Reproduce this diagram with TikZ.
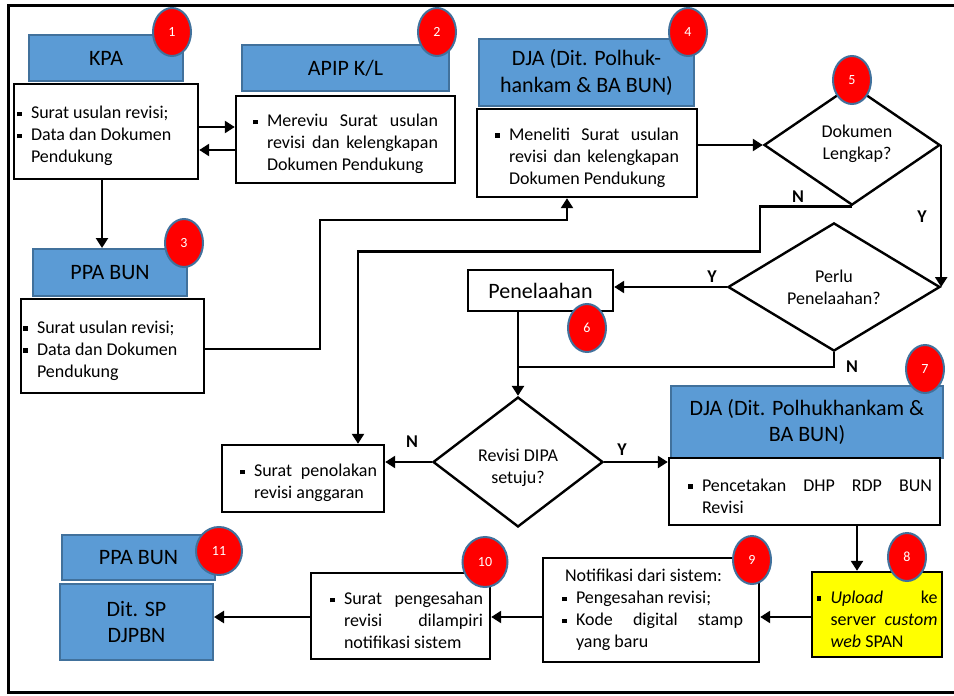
\documentclass[tikz,border=0pt]{standalone}
\usepackage{fontspec}
\setmainfont{Carlito}
\usetikzlibrary{arrows.meta,shapes.geometric,calc}
\definecolor{hdrfill}{HTML}{5B9BD5}
\definecolor{hdrline}{HTML}{41719C}
\definecolor{yel}{HTML}{FFFF00}
\newcommand\fsb{\fontsize{18}{22}\selectfont}
\newcommand\fsh{\fontsize{22}{26.5}\selectfont}
\newcommand\fsc{\fontsize{14}{16}\selectfont}
\newcommand\bul{\makebox[14pt][l]{\rule[2.5pt]{4.5pt}{4.5pt}}}
\newcommand\bitem[1]{\par\noindent\hangindent=14pt\hangafter=1\bul#1\par}
\begin{document}
\begin{tikzpicture}[x=1pt,y=-1pt,
 box/.style={draw=black,line width=2.4pt,fill=white,inner sep=0pt,font=\fsb,align=justify,execute at begin node=\setlength{\parindent}{0pt}},
 hdr/.style={draw=hdrline,line width=2pt,fill=hdrfill,inner sep=0pt,font=\fsh,align=center},
 dia/.style={diamond,draw=black,line width=2.4pt,fill=white,inner sep=0pt,font=\fsb,align=center},
 num/.style={ellipse,draw=hdrline,line width=2pt,fill=red,text=white,inner sep=0pt,minimum width=38pt,minimum height=48pt,font=\fsc},
 arr/.style={line width=2.4pt,-{Triangle[length=10pt,width=12pt]}},
 ln/.style={line width=2.4pt},
 yn/.style={font=\fsb\bfseries,inner sep=0pt}]
\useasboundingbox (0,0) rectangle (954,696);
\draw[line width=3pt] (956,5) -- (8,5) -- (8,692) -- (956,692);

% boxes
\node[hdr,minimum width=154pt,minimum height=46pt] (kpah) at (106,58) {KPA};
\node[box,minimum width=184pt,minimum height=95pt,text width=178pt] (kpa) at (106,131.5) {\bitem{Surat usulan revisi;}\bitem{Data dan Dokumen\newline Pendukung}};
\node[hdr,minimum width=207pt,minimum height=46pt] (apiph) at (345.5,68) {APIP K/L};
\node[box,minimum width=219pt,minimum height=87pt,text width=185pt] (apip) at (345.5,139.5) {\bitem{Mereviu Surat usulan\linebreak revisi dan kelengkapan\linebreak Dokumen Pendukung}};
\node[hdr,minimum width=215pt,minimum height=67pt] (djah) at (586.5,72.5) {DJA (Dit. Polhuk-\\hankam \& BA BUN)};
\node[box,minimum width=220pt,minimum height=88pt,text width=184pt] (dja) at (587,153) {\bitem{Meneliti Surat usulan\linebreak revisi dan kelengkapan\linebreak Dokumen Pendukung}};
\node[hdr,minimum width=154pt,minimum height=47pt] (ppah) at (110,272.5) {PPA BUN};
\node[box,minimum width=183pt,minimum height=94pt,text width=179pt] (ppa) at (112.5,346) {\bitem{Surat usulan revisi;}\bitem{Data dan Dokumen\newline Pendukung}};
\node[dia,minimum width=176pt,minimum height=120pt] (d5) at (852,145) {\hspace*{10pt}Dokumen\\\hspace*{10pt}Lengkap?\rule[-5pt]{0pt}{1pt}};
\node[dia,minimum width=212pt,minimum height=124pt] (d6) at (834,287) {Perlu\\Penelaahan?};
\node[box,minimum width=145pt,minimum height=41pt,font=\fsh,align=center] (pen) at (540.5,290.5) {Penelaahan};
\node[dia,minimum width=170pt,minimum height=116pt] (d7) at (518,462) {\rule{0pt}{25pt}Revisi DIPA\\setuju?};
\node[box,minimum width=162pt,minimum height=67pt,text width=148pt] (tolak) at (303,478.5) {\leftskip=11pt\bitem{Surat penolakan\linebreak revisi anggaran}};
\node[hdr,minimum width=272pt,minimum height=72pt] (dja2h) at (807,422) {DJA (Dit. Polhukhankam \&\\BA BUN)};
\node[box,minimum width=271pt,minimum height=67pt,text width=255pt] (dja2) at (804.5,491.5) {\leftskip=11pt\bitem{Pencetakan DHP RDP BUN\linebreak Revisi}};
\node[box,fill=yel,minimum width=130pt,minimum height=85pt,text width=121pt] (up) at (877,614.5) {\bitem{\textit{Upload} ke\linebreak server \textit{custom}\linebreak \textit{web} SPAN}};
\node[box,minimum width=216pt,minimum height=104pt,text width=184pt] (notif) at (651,610) {\leftskip=3pt\noindent\hspace*{3pt}Notifikasi dari sistem:\bitem{Pengesahan revisi;}\bitem{Kode digital stamp\linebreak yang baru}};
\node[box,minimum width=179pt,minimum height=86pt,text width=165pt] (b10) at (400.5,616) {\leftskip=12pt\bitem{Surat pengesahan\linebreak revisi dilampiri\linebreak notifikasi sistem}};
\node[hdr,minimum width=153pt,minimum height=45pt] (ppa2h) at (138.5,557.5) {PPA BUN};
\node[hdr,minimum width=153pt,minimum height=76pt] (ditsp) at (136.5,622) {Dit. SP\\DJPBN};

% connectors
\coordinate (k1) at ([yshift=4.5pt]kpa.east);
\draw[arr] (k1) -- (k1 -| apip.west);
\coordinate (k2) at ([yshift=-10.5pt]apip.west);
\draw[arr] (k2) -- (k2 -| kpa.east);
\coordinate (k3) at ([xshift=-4pt]kpa.south);
\draw[arr] (k3) -- (k3 |- ppah.north);
\coordinate (p1) at ([yshift=-3pt]ppa.east);
\coordinate (p2) at ([xshift=-20pt]dja.south);
\draw[arr] (p1) -- ++(115,0) |- ($(p2)+(0,22)$) -- (p2);
\draw[arr] (dja.east |- d5.west) -- (d5.west);
\draw[arr] (d5.south) -- ++(-92,0) -- ++(0,45) -| ([xshift=55pt]tolak.north);
\draw[arr] (d5.east) -- (d6.east);
\draw[arr] (d6.west) -- (d6.west -| pen.east);
\coordinate (pb) at (d7.north |- pen.south);
\draw[arr] (pb) -- (d7.north);
\draw[ln] (d6.south) -- ++(0,15) coordinate (j) -- (j -| d7.north);
\draw[arr] (d7.west) -- (d7.west -| tolak.east);
\draw[arr] (d7.east) -- (d7.east -| dja2.west);
\coordinate (q1) at ([xshift=52.5pt]dja2.south);
\draw[arr] (q1) -- (q1 |- up.north);
\coordinate (q2) at ([yshift=-2.5pt]up.west);
\draw[arr] (q2) -- (q2 -| notif.east);
\coordinate (q3) at ([yshift=-7pt]notif.west);
\draw[arr] (q3) -- (q3 -| b10.east);
\coordinate (q4) at ([yshift=-1pt]b10.west);
\draw[arr] (q4) -- (q4 -| ditsp.east);

% labels
\node[yn] (l1) at (798,197) {N};
\node[yn] (l2) at (922,217) {Y};
\node[yn] (l3) at (712,277) {Y};
\node[yn] (l4) at (852,367) {N};
\node[yn] (l5) at (412,442) {N};
\node[yn] (l6) at (622,450) {Y};

% numbers
\node[num] (c1) at (172,32) {1};
\node[num] (c2) at (437,32) {2};
\node[num] (c3) at (184,243) {3};
\node[num] (c4) at (688,32) {4};
\node[num] (c5) at (852,80) {5};
\node[num] (c6) at (587,328) {6};
\node[num] (c7) at (925,369) {7};
\node[num] (c8) at (907,557) {8};
\node[num] (c9) at (752,560) {9};
\node[num,minimum width=45pt,minimum height=50pt] (c10) at (485,562) {10};
\node[num,minimum width=46pt,minimum height=48pt] (c11) at (219,551) {11};
\end{tikzpicture}
\end{document}
